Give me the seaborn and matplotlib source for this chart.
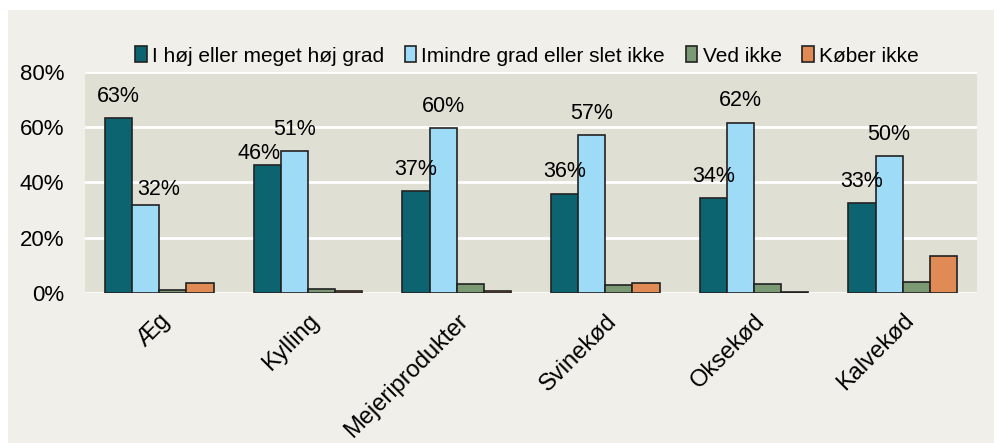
import pandas as pd
import numpy as np
import matplotlib.pyplot as plt
import matplotlib.patches as mpatches
import seaborn as sns

# data (percent)
categories = ['Æg', 'Kylling', 'Mejeriprodukter', 'Svinekød', 'Oksekød', 'Kalvekød']
series = ['I høj eller meget høj grad', 'Imindre grad eller slet ikke', 'Ved ikke', 'Køber ikke']
hoj = [63.3, 46.2, 36.8, 36.0, 34.4, 32.6]
mindre = [31.8, 51.3, 59.6, 57.1, 61.7, 49.6]
ved_ikke = [1.0, 1.3, 3.2, 3.0, 3.3, 4.0]
kober_ikke = [3.5, 0.6, 0.6, 3.6, 0.4, 13.5]
colors = ['#0b6470', '#9edbf7', '#7b9a73', '#e08a56']

rows = []
for name, vals in zip(series, [hoj, mindre, ved_ikke, kober_ikke]):
    for cat, v in zip(categories, vals):
        rows.append({'kategori': cat, 'serie': name, 'andel': v})
df = pd.DataFrame(rows)

sns.set_style('white')
plt.rcParams['font.family'] = ['Liberation Sans', 'DejaVu Sans']
plt.rcParams['text.color'] = 'black'
plt.rcParams['xtick.color'] = 'black'
plt.rcParams['ytick.color'] = 'black'

fig = plt.figure(figsize=(9.95, 4.43), dpi=100, facecolor='white')
fig.patches.append(mpatches.Rectangle((8 / 995, 0), 1, 1 - 10 / 443, transform=fig.transFigure,
                                      facecolor='#f0efe9', edgecolor='none', zorder=-10))
ax = fig.add_axes([85 / 995, 1 - 293 / 443, (977 - 85) / 995, (293 - 72) / 443])
ax.set_facecolor('#e0dfd4')

sns.barplot(data=df, x='kategori', y='andel', hue='serie', palette=colors,
            width=0.73, edgecolor='#222222', linewidth=1.2, ax=ax, saturation=1)

# value labels only on the first two series
pad = 8
anns = []
for c in ax.containers[:2]:
    anns.append(ax.bar_label(c, labels=[f'{b.get_height():.0f}%' for b in c],
                             padding=pad, fontsize=15.5, color='black'))
# nudge the two labels that would collide (like the original)
anns[1][0].xyann = (9.5, pad - 4.5)   # 32% on Æg
anns[0][1].xyann = (-6, pad - 7)      # 46% on Kylling

ax.set_ylim(0, 80)
ax.set_yticks([0, 20, 40, 60, 80])
ax.set_yticklabels([f'{t}%' for t in [0, 20, 40, 60, 80]], fontsize=16)
ax.yaxis.grid(True, color='white', linewidth=2)
ax.set_axisbelow(True)
for s in ax.spines.values():
    s.set_visible(False)
ax.tick_params(axis='y', length=0, pad=15)
ax.tick_params(axis='x', length=0, pad=12)
ax.set_xlabel('')
ax.set_ylabel('')
ax.set_xticks(range(len(categories)))
ax.set_xticklabels(categories, rotation=45, ha='right', rotation_mode='anchor', fontsize=17)
ax.set_xlim(-0.5, len(categories) - 0.5)

handles, labels = ax.get_legend_handles_labels()
ax.legend(handles, labels, loc='center', bbox_to_anchor=(527 / 995, 1 - 56 / 443),
          bbox_transform=fig.transFigure, ncol=4, frameon=False, fontsize=15,
          handlelength=0.55, handleheight=0.8, handletextpad=0.25, columnspacing=1.0)

fig.savefig('out.png', dpi=100, facecolor=fig.get_facecolor())
